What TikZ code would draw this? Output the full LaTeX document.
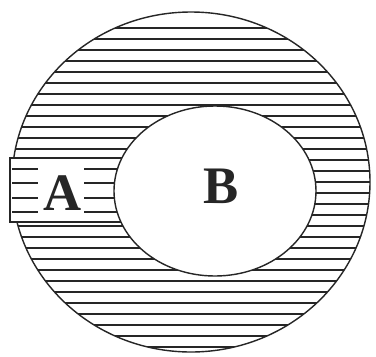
\documentclass[tikz,border=0pt]{standalone}
\usepackage{fontspec}
\setmainfont{Liberation Serif}
\begin{document}
\begin{tikzpicture}[x=0.02cm,y=-0.02cm,
  rim/.style={draw=black!85,line width=0.8pt},
  hatch/.style={draw=black!85,line width=0.9pt},
  lbl/.style={font=\fontsize{30}{30}\selectfont\bfseries,text=black!85,inner sep=1pt}]
\useasboundingbox (0,0) rectangle (376,356);
\fill[white] (0,0) rectangle (376,356);
% outer set A with hatching
\begin{scope}
  \clip (191,182) ellipse [x radius=179, y radius=170];
  \foreach \y in {28,39,...,350} { \draw[hatch] (0,\y) -- (376,\y); }
\end{scope}
\draw[rim] (191,182) ellipse [x radius=179, y radius=170];
% label box for A
\filldraw[fill=white,draw=black!85,line width=0.8pt] (10,158) rectangle (126,222);
\foreach \y in {169,183,198,212} {
  \draw[hatch] (12,\y) -- (38,\y);
  \draw[hatch] (84,\y) -- (126,\y);
}
\node[lbl] (A) at (63,193) {A};
% inner set B
\filldraw[fill=white,rim] (215,191) ellipse [x radius=101, y radius=85];
\node[lbl] (B) at (221,186) {B};
\end{tikzpicture}
\end{document}
